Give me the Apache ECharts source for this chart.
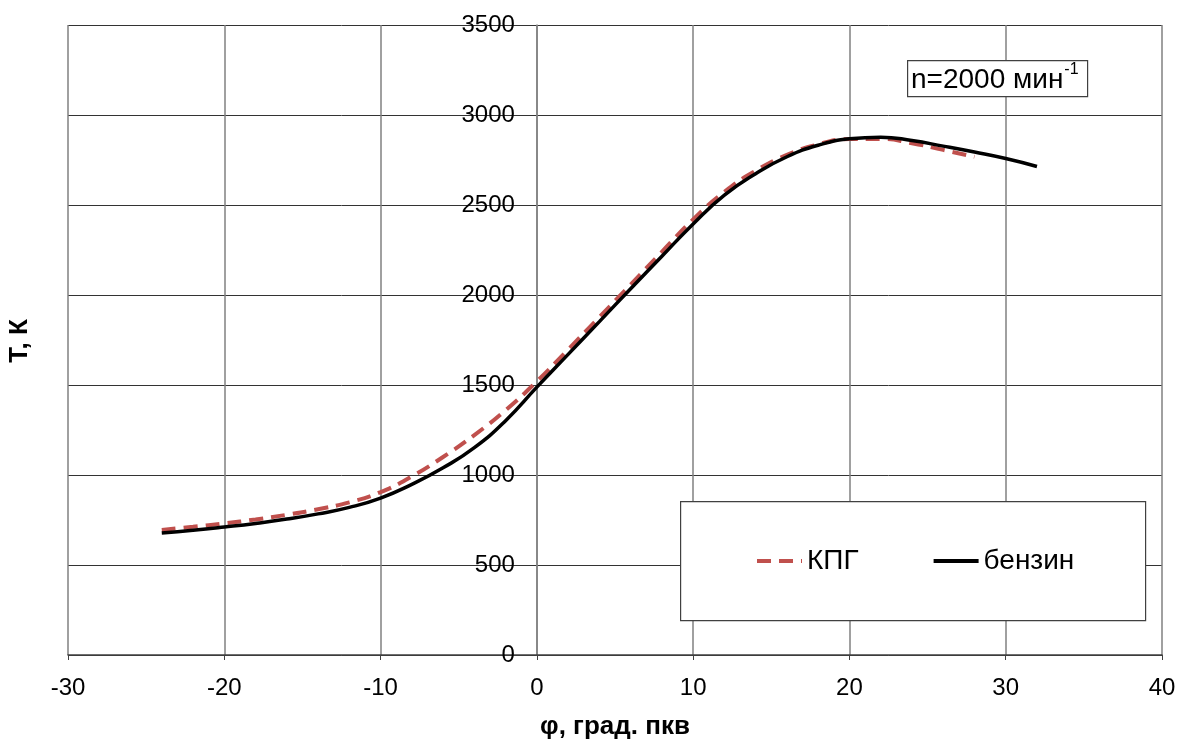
<!DOCTYPE html>
<html>
<head>
<meta charset="utf-8">
<script src="https://cdn.jsdelivr.net/npm/echarts@6/dist/echarts.min.js"></script>
<style>
  html, body { margin: 0; padding: 0; background: #fff; }
  #chart { width: 1180px; height: 745px; }
</style>
</head>
<body>
<div id="chart"></div>
<script>
// Crank angle, degrees relative to TDC
const anglesCNG = [-24, -22, -20, -18, -16, -14, -12, -10, -8, -6, -4, -2, 0, 2, 4, 6, 8, 10, 12, 14, 16, 18, 20, 22, 24, 26, 28];
const anglesPetrol = [-24, -22, -20, -18, -16, -14, -12, -10, -8, -6, -4, -2, 0, 2, 4, 6, 8, 10, 12, 14, 16, 18, 20, 22, 24, 26, 28, 30, 32];

// In-cylinder temperature, K
const tempCNG = [695, 712, 731, 753, 779, 810, 848, 905, 992, 1100, 1222, 1360, 1520, 1697, 1877, 2058, 2240, 2420, 2573, 2690, 2778, 2837, 2866, 2867, 2843, 2806, 2768];
const tempPetrol = [678, 693, 711, 731, 755, 784, 820, 872, 948, 1040, 1152, 1302, 1488, 1670, 1852, 2035, 2215, 2395, 2555, 2674, 2768, 2832, 2868, 2877, 2858, 2827, 2794, 2758, 2714];

const seriesNames = ['КПГ', 'бензин'];
const xTicks = { min: -30, max: 40, step: 10 };
const yTicks = { min: 0, max: 3500, step: 500 };

const pairs = (xs, ys) => xs.map((x, i) => [x, ys[i]]);

const FONT = '"Liberation Sans", Arial, sans-serif';
const GRID = { left: 68, right: 18, top: 25, bottom: 87 };
const plotWidth = 1180 - GRID.left - GRID.right;
// the temperature axis is drawn through φ = 0
const yAxisShift = (0 - xTicks.min) / (xTicks.max - xTicks.min) * plotWidth;

// engine speed note: width of the main run decides where the exponent goes
const noteText = 'n=2000 мин';
const noteFont = 28;
const measureCtx = document.createElement('canvas').getContext('2d');
measureCtx.font = noteFont + 'px "Liberation Sans", Arial, sans-serif';
const noteWidth = measureCtx.measureText(noteText).width;
const noteLeft = 911;

const chart = echarts.init(document.getElementById('chart'));

chart.setOption({
  animation: false,
  backgroundColor: '#ffffff',
  textStyle: { fontFamily: FONT, color: '#000' },
  grid: Object.assign({ containLabel: false }, GRID),
  xAxis: {
    type: 'value',
    min: xTicks.min, max: xTicks.max, interval: xTicks.step,
    name: 'φ, град. пкв',
    nameLocation: 'middle',
    nameGap: 59,
    nameTextStyle: { fontFamily: FONT, fontSize: 26, fontWeight: 'bold', color: '#000' },
    axisLine: { show: true, onZero: false, lineStyle: { color: '#404040', width: 1.5 } },
    axisTick: { show: true, length: 5, lineStyle: { color: '#404040', width: 1 } },
    axisLabel: { margin: 21, fontSize: 24, color: '#000', fontFamily: FONT, formatter: v => String(v) },
    splitLine: { show: true, lineStyle: { color: '#808080', width: 1.5 } }
  },
  yAxis: {
    type: 'value',
    min: yTicks.min, max: yTicks.max, interval: yTicks.step,
    offset: -yAxisShift,
    axisLine: { show: true, onZero: false, lineStyle: { color: '#808080', width: 1.5 } },
    axisTick: { show: false },
    axisLabel: { margin: 22, fontSize: 24, color: '#000', fontFamily: FONT, formatter: v => String(v) },
    splitLine: { show: true, lineStyle: { color: '#333333', width: 1 } }
  },
  legend: {
    data: seriesNames,
    left: 755,
    top: 547,
    z: 10,
    padding: 0,
    itemWidth: 45,
    itemHeight: 14,
    itemGap: 73,
    itemStyle: { opacity: 0 },
    lineStyle: { width: 4 },
    textStyle: { fontSize: 28, color: '#000', fontFamily: FONT }
  },
  graphic: [
    {
      type: 'rect',
      left: 680, top: 501, z: 1,
      shape: { width: 465, height: 119 },
      style: { fill: '#ffffff', stroke: '#404040', lineWidth: 1.2 }
    },
    {
      type: 'rect',
      left: 907, top: 60, z: 1,
      shape: { width: 180, height: 36 },
      style: { fill: '#ffffff', stroke: '#404040', lineWidth: 1.2 }
    },
    {
      type: 'text',
      x: noteLeft, y: 80, z: 6,
      style: {
        text: noteText,
        fontSize: noteFont, fontFamily: FONT, fill: '#000',
        align: 'left', verticalAlign: 'middle'
      }
    },
    {
      type: 'text',
      x: noteLeft + noteWidth + 1, y: 70, z: 6,
      style: {
        text: '-1',
        fontSize: 16, fontFamily: FONT, fill: '#000',
        align: 'left', verticalAlign: 'middle'
      }
    },
    {
      type: 'text',
      x: 20, y: 341, rotation: Math.PI / 2, z: 6,
      style: {
        text: 'Т, К',
        fontSize: 26, fontWeight: 'bold', fontFamily: FONT, fill: '#000',
        align: 'center', verticalAlign: 'middle'
      }
    }
  ],
  series: [
    {
      name: seriesNames[0],
      type: 'line',
      smooth: 0.5,
      symbol: 'none',
      z: 3,
      data: pairs(anglesCNG, tempCNG),
      lineStyle: { color: '#c0504d', width: 4, type: [14, 8], cap: 'butt' },
      itemStyle: { color: '#c0504d' }
    },
    {
      name: seriesNames[1],
      type: 'line',
      smooth: 0.5,
      symbol: 'none',
      z: 4,
      data: pairs(anglesPetrol, tempPetrol),
      lineStyle: { color: '#000000', width: 3.5 },
      itemStyle: { color: '#000000' }
    }
  ]
});
</script>
</body>
</html>
